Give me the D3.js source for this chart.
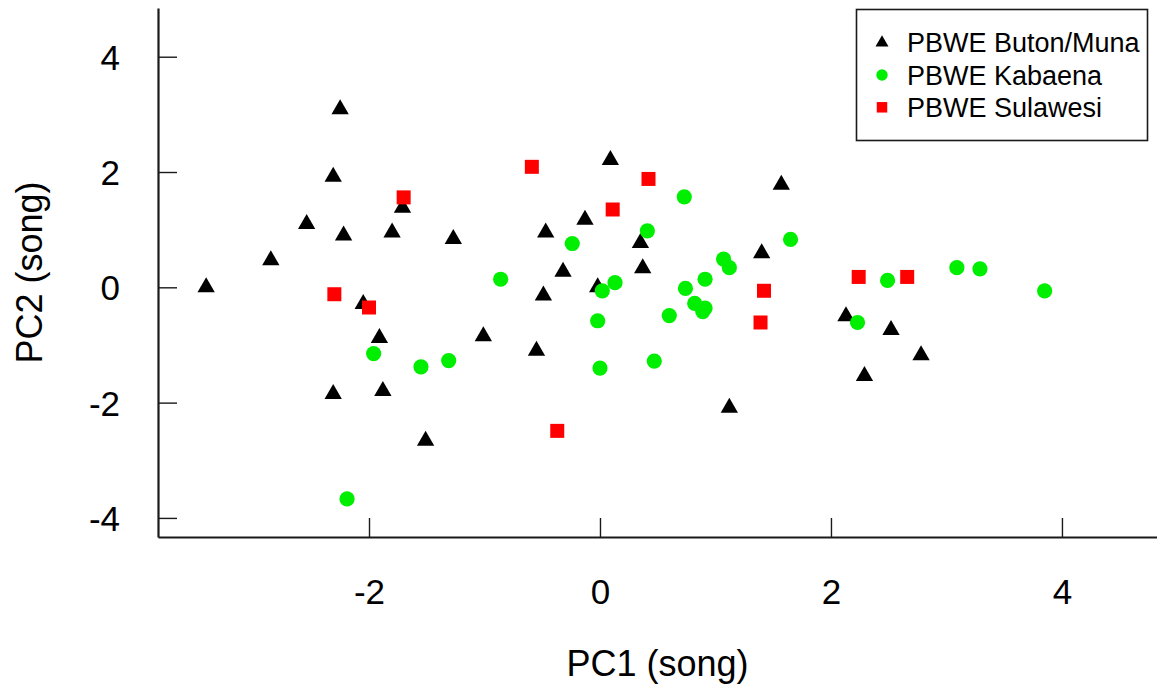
<!DOCTYPE html>
<html>
<head>
<meta charset="utf-8">
<script src="https://cdn.jsdelivr.net/npm/d3@7"></script>
<style>
  html, body { margin: 0; padding: 0; background: #fff; }
  svg { display: block; font-family: "Liberation Sans", Arial, sans-serif; }
</style>
</head>
<body>
<svg id="chart" width="1157" height="686"></svg>
<script>
// ---- Data ----
const groups = ["PBWE Buton/Muna", "PBWE Kabaena", "PBWE Sulawesi"];

const butonX = [-3.41, -2.85, -2.54, -2.31, -2.25, -2.22, -1.80, -1.71, -1.27, -2.05, -1.91, -2.31, -1.88, -1.51, -1.01, -0.55, -0.49, -0.47, -0.32, -0.13, -0.02, 0.09, 0.35, 0.37, 1.12, 1.40, 1.57, 2.13, 2.29, 2.52, 2.78];
const butonY = [0.00, 0.47, 1.10, 1.92, 3.09, 0.90, 0.95, 1.38, 0.84, -0.29, -0.88, -1.85, -1.80, -2.66, -0.85, -1.10, -0.14, 0.95, 0.27, 1.17, 0.00, 2.21, 0.77, 0.33, -2.09, 0.59, 1.78, -0.50, -1.54, -0.74, -1.18];

const kabaenaX = [-2.19, -1.96, -1.55, -1.31, -0.86, -0.24, -0.02, 0.00, 0.02, 0.13, 0.41, 0.47, 0.60, 0.73, 0.74, 0.82, 0.89, 0.91, 0.91, 1.07, 1.12, 1.65, 2.23, 2.49, 3.09, 3.29, 3.85];
const kabaenaY = [-3.67, -1.15, -1.38, -1.27, 0.14, 0.76, -0.58, -1.40, -0.06, 0.08, 0.98, -1.28, -0.49, 1.57, -0.02, -0.28, -0.42, -0.36, 0.14, 0.49, 0.34, 0.83, -0.61, 0.12, 0.34, 0.32, -0.06];

const sulawesiX = [-2.30, -2.00, -1.70, -0.59, -0.37, 0.11, 0.42, 1.39, 1.42, 2.24, 2.66];
const sulawesiY = [-0.12, -0.35, 1.56, 2.09, -2.49, 1.35, 1.88, -0.61, -0.06, 0.18, 0.18];

const xTicks = [-2, 0, 2, 4];
const yTicks = [-4, -2, 0, 2, 4];
const xTitle = "PC1 (song)";
const yTitle = "PC2 (song)";

// ---- Layout ----
const svg = d3.select("#chart");
const plotLeft = 158, plotRight = 1157, plotTop = 8, plotBottom = 537;

const x = d3.scaleLinear().domain([-3.827, 4.823]).range([plotLeft, plotRight]);
const y = d3.scaleLinear().domain([-4.331, 4.845]).range([plotBottom, plotTop]);

const colors = ["#000000", "#00ee00", "#ff0000"];
const shapes = ["triangle", "circle", "square"];

function symbolPath(shape, s) {
  const p = d3.path();
  if (shape === "triangle") {
    const r = 10 * s, xc = r * Math.sqrt(3) / 2;
    p.moveTo(0, -r); p.lineTo(xc, r / 2); p.lineTo(-xc, r / 2); p.closePath();
  } else if (shape === "circle") {
    const r = 7.6 * s;
    p.arc(0, 0, r, 0, 2 * Math.PI);
  } else {
    const h = 7 * s;
    p.rect(-h, -h, 2 * h, 2 * h);
  }
  return p.toString();
}

// ---- Axes ----
const axisFont = 35;
const xAxis = svg.append("g").attr("transform", `translate(0,${plotBottom})`)
  .call(d3.axisBottom(x).tickValues(xTicks).tickSizeInner(-19).tickSizeOuter(0).tickPadding(42).tickFormat(d3.format("d")));
const yAxis = svg.append("g").attr("transform", `translate(${plotLeft},0)`)
  .call(d3.axisLeft(y).tickValues(yTicks).tickSizeInner(-19).tickSizeOuter(0).tickPadding(38).tickFormat(d3.format("d")));

[xAxis, yAxis].forEach(g => {
  g.select(".domain").attr("stroke", "#1a1a1a").attr("stroke-width", 2.2);
  g.selectAll(".tick line").attr("stroke", "#1a1a1a").attr("stroke-width", 1.4);
  g.selectAll(".tick text").attr("fill", "#000").style("font-size", axisFont + "px")
    .style("font-family", "'Liberation Sans', Arial, sans-serif");
});
xAxis.selectAll(".tick text").text(d => d < 0 ? "-" + Math.abs(d) : String(d));
yAxis.selectAll(".tick text").attr("dy", "0.36em").text(d => d < 0 ? "-" + Math.abs(d) : String(d));

// Axis titles
svg.append("text").attr("x", (plotLeft + plotRight) / 2).attr("y", 676)
  .attr("text-anchor", "middle").style("font-size", "36px").attr("fill", "#000").text(xTitle);
svg.append("text").attr("transform", `translate(42,${(plotTop + plotBottom) / 2}) rotate(-90)`)
  .attr("text-anchor", "middle").style("font-size", "36px").attr("fill", "#000").text(yTitle);

// ---- Points ----
const seriesX = [butonX, kabaenaX, sulawesiX];
const seriesY = [butonY, kabaenaY, sulawesiY];
seriesX.forEach((xs, gi) => {
  const pts = xs.map((v, i) => ({ x: v, y: seriesY[gi][i] }));
  svg.append("g").selectAll("path").data(pts).join("path")
    .attr("transform", d => `translate(${x(d.x)},${y(d.y)})`)
    .attr("d", symbolPath(shapes[gi], 1))
    .attr("fill", colors[gi]);
});

// ---- Legend ----
const lg = svg.append("g");
lg.append("rect").attr("x", 856.5).attr("y", 9.5).attr("width", 291).attr("height", 131)
  .attr("fill", "#fff").attr("stroke", "#1a1a1a").attr("stroke-width", 1.6);
const rowY = [42.7, 75, 107.3];
groups.forEach((name, i) => {
  lg.append("path").attr("transform", `translate(882,${rowY[i]})`)
    .attr("d", symbolPath(shapes[i], 0.75)).attr("fill", colors[i]);
  lg.append("text").attr("x", 907).attr("y", rowY[i] + 9.5)
    .style("font-size", "27px").attr("fill", "#000").text(name);
});
</script>
</body>
</html>
